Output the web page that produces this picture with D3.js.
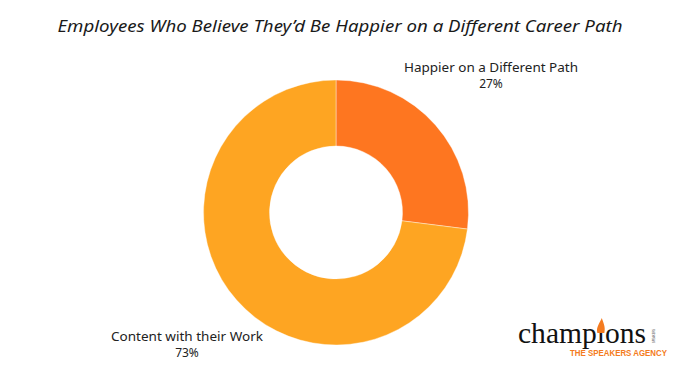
<!DOCTYPE html>
<html>
<head>
<meta charset="utf-8">
<script src="https://cdn.jsdelivr.net/npm/d3@7"></script>
<style>
  html, body { margin: 0; padding: 0; background: #fff; }
  svg { display: block; }
</style>
</head>
<body>
<div id="chart"></div>
<script>
// chart data
const title = "Employees Who Believe They\u2019d Be Happier on a Different Career Path";
const categories = ["Happier on a Different Path", "Content with their Work"];
const shares = [27, 73];
const colors = ["#FE7620", "#FEA522"];

const width = 680, height = 373;
const cx = 336, cy = 212.5;
const outerR = 132.5, innerR = 66.5;

const svg = d3.select("#chart")
    .append("svg")
    .attr("width", width)
    .attr("height", height);

// Title
svg.append("text")
    .attr("x", 340)
    .attr("y", 32)
    .attr("text-anchor", "middle")
    .attr("font-family", "Noto Sans, sans-serif")
    .attr("font-style", "italic")
    .attr("font-size", 17)
    .attr("fill", "#1a1a1a")
    .attr("textLength", 565)
    .attr("lengthAdjust", "spacingAndGlyphs")
    .text(title);

// Donut
const pie = d3.pie().sort(null).value(d => d);
const arc = d3.arc().innerRadius(innerR).outerRadius(outerR);

const g = svg.append("g")
    .attr("transform", `translate(${cx},${cy})`);

g.selectAll("path")
    .data(pie(shares))
    .enter().append("path")
    .attr("d", arc)
    .attr("fill", (d, i) => colors[i])
    .attr("stroke", "#fff")
    .attr("stroke-width", 0.4);

// Slice labels
const labelPos = [
    { x: 491, y: 72, w: 174 },
    { x: 187, y: 341, w: 152 }
];

categories.forEach((c, i) => {
    svg.append("text")
        .attr("x", labelPos[i].x)
        .attr("y", labelPos[i].y)
        .attr("text-anchor", "middle")
        .attr("font-family", "Noto Sans, sans-serif")
        .attr("font-size", 12)
        .attr("fill", "#222")
        .attr("textLength", labelPos[i].w)
        .attr("lengthAdjust", "spacingAndGlyphs")
        .text(c);
    svg.append("text")
        .attr("x", labelPos[i].x)
        .attr("y", labelPos[i].y + 15.5)
        .attr("text-anchor", "middle")
        .attr("font-family", "Noto Sans, sans-serif")
        .attr("font-size", 12)
        .attr("fill", "#222")
        .text(shares[i] + "%");
});

// Logo
const logo = svg.append("g");
const word = logo.append("text")
    .attr("x", 518)
    .attr("y", 343)
    .attr("font-family", "Liberation Serif, serif")
    .attr("font-size", 29)
    .attr("fill", "#111")
    .attr("textLength", 128)
    .attr("lengthAdjust", "spacingAndGlyphs")
    .text("champ\u0131ons");

// torch flame over the dotless i
const iPos = word.node().getStartPositionOfChar(5);
const iEnd = word.node().getEndPositionOfChar(5);
const fx = (iPos.x + iEnd.x) / 2;
logo.append("path")
    .attr("d", `M${fx - 3.5},333 C${fx - 5},327 ${fx - 1},323 ${fx + 1},318 C${fx + 2},322 ${fx + 5},326 ${fx + 3.5},333 Z`)
    .attr("fill", "#F47B20");

logo.append("text")
    .attr("x", 655)
    .attr("y", 343)
    .attr("font-family", "Liberation Sans, sans-serif")
    .attr("font-size", 4)
    .attr("fill", "#333")
    .attr("textLength", 14)
    .attr("lengthAdjust", "spacingAndGlyphs")
    .attr("transform", "rotate(-90 655 343)")
    .text("SPEAKERS");

logo.append("text")
    .attr("x", 570)
    .attr("y", 356)
    .attr("font-family", "Liberation Sans Narrow, Liberation Sans, sans-serif")
    .attr("font-weight", "bold")
    .attr("font-size", 9.5)
    .attr("fill", "#F47B20")
    .attr("textLength", 97)
    .attr("lengthAdjust", "spacingAndGlyphs")
    .text("THE SPEAKERS AGENCY");
</script>
</body>
</html>
